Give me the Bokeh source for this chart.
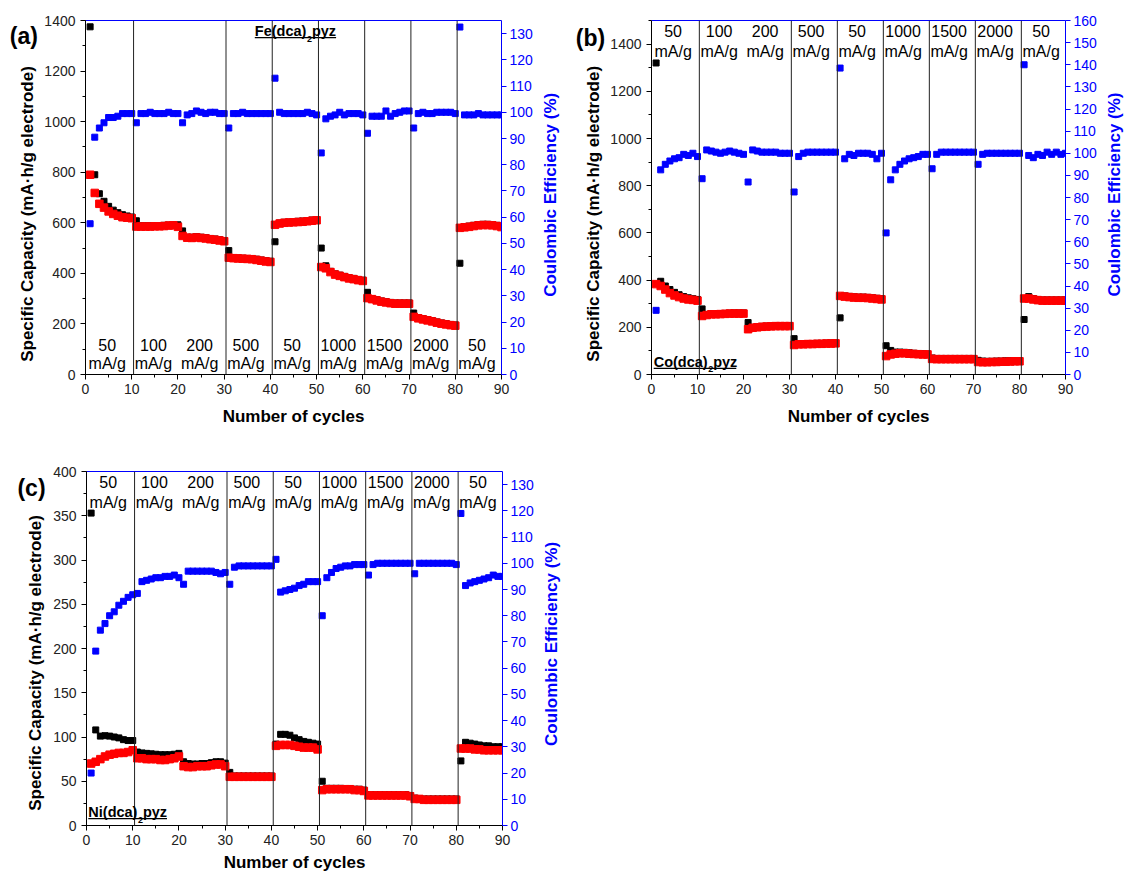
import math
from bokeh.plotting import figure
from bokeh.models import Range1d, LinearAxis, SingleIntervalTicker, FixedTicker, Label, Span
from bokeh.layouts import row, column
from bokeh.embed import file_html
from bokeh.resources import INLINE

# ---------------- data ----------------
cycles = list(range(1, 91))
rate_labels = ["50", "100", "200", "500", "50", "1000", "1500", "2000", "50"]
cycles_per_rate = 10
dividers = [10, 30, 40, 50, 60, 70, 80]

fe_charge = [1375, 790, 715, 685, 665, 650, 640, 632, 627, 623,
             608, 588, 588, 588, 588, 589, 590, 591, 593, 592,
             568, 543, 543, 545, 543, 541, 538, 536, 533, 530,
             490, 462, 461, 460, 459, 458, 456, 453, 450, 448,
             525, 599, 602, 603, 605, 606, 607, 609, 611, 612,
             500, 430, 408, 398, 393, 388, 383, 380, 376, 373,
             325, 300, 296, 291, 288, 285, 283, 283, 283, 283,
             243, 225, 221, 217, 213, 208, 204, 201, 198, 196,
             440, 585, 587, 590, 593, 594, 594, 593, 590, 586]
fe_discharge = [790, 718, 675, 660, 645, 635, 628, 622, 620, 618,
                585, 585, 585, 585, 586, 586, 587, 589, 590, 584,
                548, 541, 540, 542, 540, 538, 535, 533, 530, 527,
                462, 460, 459, 458, 457, 456, 453, 450, 447, 445,
                592, 597, 600, 601, 602, 603, 604, 606, 608, 610,
                425, 420, 405, 395, 390, 385, 380, 377, 373, 370,
                302, 298, 293, 288, 285, 282, 280, 280, 280, 280,
                228, 222, 218, 214, 210, 205, 201, 198, 195, 193,
                580, 582, 584, 587, 590, 591, 591, 590, 587, 583]
fe_ce = [57.5, 90.5, 94, 96, 98, 98, 98.5, 99.5, 99.5, 99.5,
         96, 99.5, 99.5, 100, 99.5, 99.5, 99.5, 100, 99.5, 99.5,
         96, 99, 99.5, 100.5, 100, 99.5, 100, 100, 99.5, 99.5,
         94, 99.5, 99.5, 100, 99.5, 99.5, 99.5, 99.5, 99.5, 99.5,
         113, 100, 99.5, 99.5, 99.5, 99.5, 99.5, 100, 99.5, 99,
         84.5, 97.5, 98.5, 99, 100, 99, 99.5, 99.5, 99.5, 99,
         92, 98.5, 98.5, 98.5, 100.5, 98.5, 99.5, 100, 100.5, 100.5,
         94, 99.5, 100, 99.5, 99.5, 100, 100, 100, 100, 99.5,
         132.5, 99, 99, 99, 99.5, 99, 99, 99, 99, 99]

co_charge = [1320, 395, 375, 360, 348, 338, 330, 325, 321, 318,
             278, 254, 257, 258, 258, 259, 260, 261, 261, 261,
             220, 200, 202, 204, 205, 206, 207, 207, 207, 207,
             152, 130, 130, 131, 131, 132, 132, 133, 134, 134,
             240, 333, 331, 329, 328, 328, 327, 325, 323, 321,
             122, 102, 95, 95, 94, 92, 90, 89, 88, 87,
             70, 68, 68, 68, 68, 68, 68, 68, 68, 68,
             60, 57, 56, 56, 57, 57, 58, 58, 59, 59,
             233, 330, 322, 318, 316, 316, 316, 316, 316, 316]
co_discharge = [383, 375, 360, 345, 335, 328, 322, 318, 316, 313,
                248, 252, 255, 255, 256, 257, 258, 258, 258, 258,
                192, 198, 200, 202, 203, 204, 205, 205, 205, 205,
                125, 128, 128, 129, 129, 130, 130, 131, 131, 132,
                333, 330, 328, 326, 325, 325, 324, 322, 320, 318,
                78, 85, 88, 90, 90, 88, 87, 86, 85, 85,
                66, 65, 65, 65, 65, 65, 65, 65, 65, 65,
                53, 52, 52, 53, 53, 54, 54, 55, 56, 56,
                322, 322, 318, 315, 313, 313, 313, 313, 313, 313]
co_ce = [29, 92.5, 95, 96.5, 97.5, 98, 99.5, 99, 100, 98.5,
         88.5, 101.5, 101, 100.5, 100, 100.5, 101, 100.5, 100, 99.5,
         87, 101.5, 101, 100.5, 100.5, 100.5, 100.5, 100, 100, 100,
         82.5, 98.5, 100, 100.5, 100.5, 100.5, 100.5, 100.5, 100.5, 100.5,
         138.5, 97.5, 99.5, 99, 100, 100, 100, 99.5, 97.5, 100,
         64, 88, 92.5, 95, 96.5, 97.5, 98, 98.5, 99.5, 99.5,
         93, 99.5, 100.5, 100.5, 100.5, 100.5, 100.5, 100.5, 100.5, 100.5,
         95, 99.5, 100, 100, 100, 100, 100, 100, 100, 100,
         140, 99, 98, 99.5, 99, 100.5, 99.5, 100.5, 99.5, 100]

ni_charge = [353, 108, 101, 101.5, 101, 100, 99, 97, 96, 96,
             83, 82, 81.5, 81, 80.5, 80, 80, 80, 80.5, 81.5,
             72, 70, 69.5, 69.5, 70, 70, 71, 72, 72, 70.5,
             60, 56, 56, 56, 56, 56, 56, 56, 56, 56,
             92, 103, 103, 102, 99, 97, 95, 94, 93, 92,
             50, 42, 42, 42, 42, 41.5, 41.5, 41, 41, 40,
             35, 35, 35, 35, 35, 35, 35, 35, 35, 34,
             31, 30, 30, 30, 30, 30, 30, 30, 30, 30,
             73, 94, 93, 92, 91, 90, 90, 89, 89, 89]
ni_discharge = [70, 72, 75, 78, 80, 81, 82, 82, 83, 85,
                76, 76, 75, 75, 75, 74, 74, 75, 76, 78,
                67, 66, 66, 67, 67, 67, 68, 69, 69, 67,
                55, 55, 55, 55, 55, 55, 55, 55, 55, 55,
                90, 91, 91, 91, 90, 89, 88, 88, 88, 86,
                40, 41, 41, 41, 41, 41, 41, 40, 40, 39,
                34, 34, 34, 34, 34, 34, 34, 34, 34, 33,
                30, 30, 29, 29, 29, 29, 29, 29, 29, 29,
                87, 87, 87, 86, 86, 85, 85, 85, 85, 85]
ni_ce = [20, 66.5, 74.5, 77, 80, 81.5, 84, 85.5, 87, 88,
         88.5, 93, 93.5, 94, 94.5, 94.5, 95, 95, 95.5, 94.5,
         92, 97, 97, 97, 97, 97, 97, 96.5, 96, 96.5,
         92, 98.5, 99, 99, 99, 99, 99, 99, 99, 99,
         101.5, 89, 89.5, 90, 90.5, 91.5, 92, 93, 93, 93,
         80, 94.5, 96.5, 98, 98.5, 99, 99, 99.5, 99.5, 99.5,
         95.5, 99.5, 100, 100, 100, 100, 100, 100, 100, 100,
         96, 100, 100, 100, 100, 100, 100, 100, 100, 99.5,
         119, 91.5, 92.5, 93, 93.5, 94, 94.5, 95.5, 95, 95]

cap_title = "Specific Capacity (mA\u00b7h/g electrode)"
ce_title = "Coulombic Efficiency (%)"
x_title = "Number of cycles"

# ---------------- styling ----------------
FONT = "Liberation Sans"
FW, FH = 416, 354
BLUE = "#0000ff"
RED = "#ff0000"
BLACK = "#000000"
TICK_COLOR = "#222222"


def lab(p, x, y, text, size, bold=False, color=BLACK, align="center",
        baseline="middle", angle=0.0, x_units="screen", y_units="screen"):
    p.add_layout(Label(x=x, y=y, x_units=x_units, y_units=y_units, text=text,
                       text_font=FONT, text_font_size=f"{size}px",
                       text_font_style="bold" if bold else "normal",
                       text_color=color, text_align=align,
                       text_baseline=baseline, angle=angle))


def margin_fig(w, h):
    # the frame of this strip is aligned with the neighbouring panel's frame,
    # so its y range spans the frame height (FH)
    m = figure(width=w, height=h, x_range=Range1d(0, w), y_range=Range1d(0, FH),
               x_axis_type=None, y_axis_type=None, min_border=0, title=None,
               output_backend="svg", toolbar_location=None)
    m.outline_line_color = None
    m.grid.visible = False
    return m


def style_axis(ax, color, standoff, size="14px"):
    ax.axis_line_color = color
    ax.axis_line_width = 1
    ax.major_tick_line_color = color
    ax.minor_tick_line_color = color
    ax.major_tick_out = 5
    ax.major_tick_in = 0
    ax.minor_tick_out = 3
    ax.minor_tick_in = 0
    ax.major_label_text_font = FONT
    ax.major_label_text_font_size = size
    ax.major_label_text_color = TICK_COLOR if color == BLACK else color
    ax.major_label_standoff = standoff


def make_panel(formula, charge, discharge, ce, cap_max, cap_step, ce_max,
               borders, rates_top, formula_pos, xlabel_standoff):
    bl, br, bt, bb = borders
    p = figure(width=bl + FW + br, height=bt + FH + bb,
               min_border_left=bl, min_border_right=br,
               min_border_top=bt, min_border_bottom=bb, title=None,
               x_range=Range1d(0, 90), y_range=Range1d(0, cap_max),
               output_backend="svg", toolbar_location=None,
               background_fill_color="white", border_fill_color="white")
    p.grid.visible = False
    p.outline_line_color = None
    p.extra_y_ranges = {"ce": Range1d(0, ce_max)}

    xa = p.xaxis[0]
    xa.ticker = SingleIntervalTicker(interval=10, num_minor_ticks=2)
    style_axis(xa, BLACK, 4)
    xa.axis_label = x_title
    xa.axis_label_text_font = FONT
    xa.axis_label_text_font_size = "17px"
    xa.axis_label_text_font_style = "bold"
    xa.axis_label_text_color = BLACK
    xa.axis_label_standoff = xlabel_standoff

    ya = p.yaxis[0]
    ya.ticker = SingleIntervalTicker(interval=cap_step, num_minor_ticks=2)
    style_axis(ya, BLACK, 5)

    ra = LinearAxis(y_range_name="ce",
                    ticker=SingleIntervalTicker(interval=10, num_minor_ticks=0))
    style_axis(ra, BLUE, 3)
    ra.minor_tick_line_color = None
    p.add_layout(ra, "right")

    top = LinearAxis(ticker=FixedTicker(ticks=[]), axis_line_color=BLUE,
                     major_tick_line_color=None, minor_tick_line_color=None)
    p.add_layout(top, "above")

    for d in dividers:
        p.add_layout(Span(location=d + 0.4, dimension="height",
                          line_color="#222222", line_width=1))

    p.scatter(cycles, charge, marker="square", size=6, color=BLACK)
    p.scatter(cycles, discharge, marker="square", size=7.5, color=RED)
    p.scatter(cycles, ce, marker="square", size=6, color=BLUE,
              y_range_name="ce")

    for i, r in enumerate(rate_labels):
        seg = cycles[i * cycles_per_rate:(i + 1) * cycles_per_rate]
        cx = (seg[0] + seg[-1]) / 2 - 0.8
        if rates_top:
            y1, y2 = FH - 10.5, FH - 31
        else:
            y1, y2 = 29.5, 11
        lab(p, cx, y1, r, 16, x_units="data")
        lab(p, cx, y2, "mA/g", 16, x_units="data")

    fx, fy, w_main, total_w = formula_pos
    lab(p, fx, fy, formula, 14.5, bold=True, align="left")
    lab(p, fx + w_main + 0.5, fy - 7.5, "2", 9, bold=True, align="left")
    lab(p, fx + w_main + 5.5, fy, "pyz", 14.5, bold=True, align="left")
    ux0 = fx * 90 / FW
    ux1 = (fx + total_w) * 90 / FW
    uy = (fy - 6.5) * cap_max / FH
    p.segment(x0=[ux0], y0=[uy], x1=[ux1], y1=[uy], line_color=BLACK,
              line_width=1.2)
    return p


def left_margin(w, h, letter, letter_xy, title_xy):
    m = margin_fig(w, h)
    lab(m, letter_xy[0], letter_xy[1], letter, 23, bold=True,
        x_units="data", y_units="data")
    lab(m, title_xy[0], title_xy[1], cap_title, 17, bold=True,
        angle=math.pi / 2, x_units="data", y_units="data")
    return m


def right_margin(w, h, title_xy):
    m = margin_fig(w, h)
    lab(m, title_xy[0], title_xy[1], ce_title, 17, bold=True, color=BLUE,
        angle=math.pi / 2, x_units="data", y_units="data")
    return m


H1, H3 = 430, 445

p1 = make_panel("Fe(dca)", fe_charge, fe_discharge, fe_ce, 1400, 200, 135,
                (45, 39, 20, 56), False, (169.3, 343.3, 51.6, 81.3), 10)
p2 = make_panel("Co(dca)", co_charge, co_discharge, co_ce, 1500, 200, 160,
                (44, 32, 20, 56), True, (2.2, 12.6, 54.0, 83.0), 10)
p3 = make_panel("Ni(dca)", ni_charge, ni_discharge, ni_ce, 400, 50, 135,
                (38, 39, 41, 50), True, (1.8, 13.3, 49.1, 78.7), 5)

# label positions: x from strip's left edge, y from the frame bottom
mla = left_margin(40, H1, "(a)", (23.3, 339), (27, 160.5))
mra = right_margin(25, H1, (10.3, 179.7))
mlb = left_margin(42, H1, "(b)", (25, 336.5), (27.5, 160.7))
mrb = right_margin(25, H1, (15, 180))
mlc = left_margin(48, H3, "(c)", (31, 337.5), (34.5, 162.5))
mrc = right_margin(25, H3, (9.6, 181.6))

layout = column(row(mla, p1, mra, mlb, p2, mrb), row(mlc, p3, mrc))
open("out.html", "w").write(file_html(layout, INLINE))
